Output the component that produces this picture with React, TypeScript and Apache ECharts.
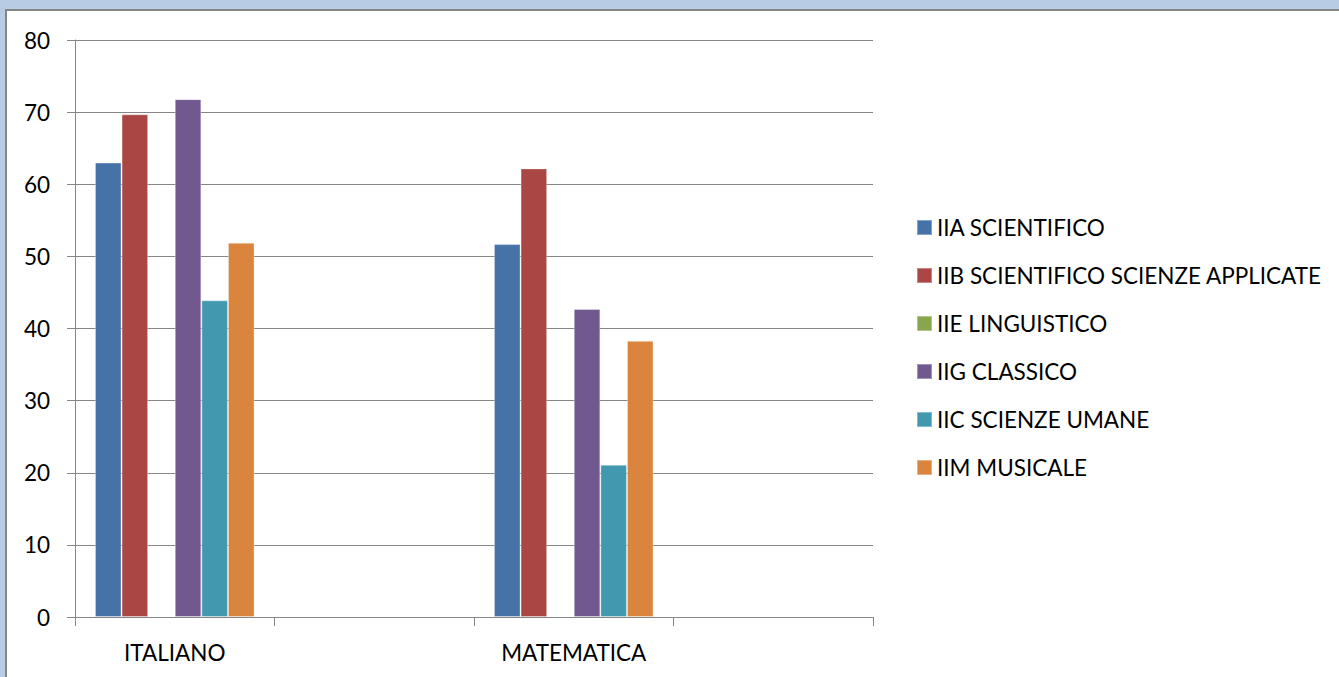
import React, { useEffect, useRef } from "react";
import * as echarts from "echarts";

const categories = ["ITALIANO", "", "MATEMATICA", ""];
const seriesNames = [
  "IIA SCIENTIFICO",
  "IIB SCIENTIFICO SCIENZE APPLICATE",
  "IIE LINGUISTICO",
  "IIG CLASSICO",
  "IIC SCIENZE UMANE",
  "IIM MUSICALE",
];
const iiaScientifico = [63.0, null, 51.7, null];
const iibScientificoSA = [69.7, null, 62.2, null];
const iieLinguistico = [null, null, null, null];
const iigClassico = [71.8, null, 42.7, null];
const iicScienzeUmane = [43.9, null, 21.1, null];
const iimMusicale = [51.9, null, 38.3, null];
const yTicks = [0, 10, 20, 30, 40, 50, 60, 70, 80];

const seriesData = [iiaScientifico, iibScientificoSA, iieLinguistico, iigClassico, iicScienzeUmane, iimMusicale];
const colors = ["#4572A7", "#AA4643", "#89A54E", "#71588F", "#4198AF", "#DB843D"];

const FONT = "Lato";
const FS = 22.5;
const GRAY = "#868686";

export default function App() {
  const ref = useRef<HTMLDivElement>(null);
  useEffect(() => {
    if (!ref.current) return;
    const chart = echarts.init(ref.current, undefined, { renderer: "svg" });
    chart.setOption({
      animation: false,
      backgroundColor: "#ffffff",
      color: colors,
      textStyle: { fontFamily: FONT },
      grid: { left: 75, right: 466, top: 40, bottom: 60, containLabel: false },
      legend: {
        orient: "vertical",
        left: 916,
        top: 216,
        padding: 0,
        icon: "rect",
        itemWidth: 15,
        itemHeight: 15,
        itemGap: 25,
        data: seriesNames,
        textStyle: { fontFamily: FONT, fontSize: FS, color: "#000", lineHeight: 22 },
      },
      xAxis: {
        type: "category",
        data: categories,
        axisLine: { lineStyle: { color: GRAY, width: 1 } },
        axisTick: { show: true, length: 9, interval: 0, lineStyle: { color: GRAY } },
        axisLabel: { interval: 0, color: "#000", fontSize: FS, fontFamily: FONT, margin: 24 },
        splitLine: { show: false },
      },
      yAxis: {
        type: "value",
        min: yTicks[0],
        max: yTicks[yTicks.length - 1],
        interval: 10,
        axisLine: { show: true, lineStyle: { color: GRAY, width: 1 } },
        axisTick: { show: true, length: 8, lineStyle: { color: GRAY } },
        axisLabel: { color: "#000", fontSize: FS, fontFamily: FONT, margin: 25 },
        splitLine: { show: true, lineStyle: { color: GRAY, width: 1 } },
      },
      series: seriesNames.map((name, i) => ({
        name,
        type: "bar",
        data: seriesData[i],
        barGap: "0%",
        barCategoryGap: "20%",
        itemStyle: { borderColor: "rgba(255,255,255,0.35)", borderWidth: 1 },
      })),
      graphic: [
        { type: "rect", shape: { x: 0, y: 0, width: 1339, height: 9 }, style: { fill: "#b8cce4" }, silent: true },
        { type: "rect", shape: { x: 0, y: 0, width: 5, height: 677 }, style: { fill: "#b8cce4" }, silent: true },
        { type: "rect", shape: { x: 5, y: 9, width: 1334, height: 2 }, style: { fill: GRAY }, silent: true },
        { type: "rect", shape: { x: 5, y: 9, width: 2, height: 668 }, style: { fill: GRAY }, silent: true },
      ],
    });
    return () => chart.dispose();
  }, []);
  return <div ref={ref} style={{ position: "fixed", left: 0, top: 0, width: 1339, height: 677 }} />;
}
